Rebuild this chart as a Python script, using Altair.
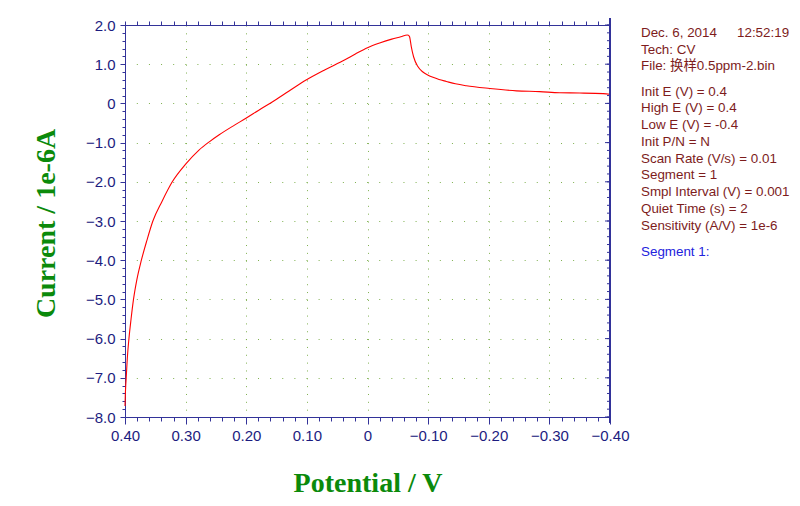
import altair as alt
import pandas as pd

# ---- data ----
potential = [0.400, 0.3995, 0.3988, 0.398, 0.3962, 0.3935, 0.390, 0.386, 0.3805, 0.373,
             0.364, 0.354, 0.339, 0.322, 0.300, 0.278, 0.261, 0.2446, 0.220, 0.2005,
             0.180, 0.1565, 0.130, 0.1013, 0.070, 0.038, 0.020, 0.000, -0.020, -0.040,
             -0.055, -0.0656, -0.0675, -0.0694, -0.0722, -0.076, -0.0831, -0.0914, -0.100, -0.108,
             -0.118, -0.130, -0.145, -0.163, -0.2017, -0.2458, -0.284, -0.317, -0.350, -0.389,
             -0.400]
current = [-7.72, -7.45, -7.20, -7.00, -6.50, -6.00, -5.50, -5.00, -4.50, -4.00,
           -3.50, -3.00, -2.50, -2.00, -1.55, -1.19, -0.98, -0.80, -0.56, -0.38,
           -0.18, 0.044, 0.31, 0.597, 0.86, 1.107, 1.26, 1.42, 1.54, 1.64,
           1.70, 1.745, 1.74, 1.70, 1.45, 1.19, 0.94, 0.80, 0.72, 0.665,
           0.61, 0.56, 0.50, 0.45, 0.38, 0.32, 0.30, 0.27, 0.265, 0.25,
           0.235]

x_ticks = [round(0.4 - 0.02 * i, 2) for i in range(41)]
y_ticks = [round(2.0 - 0.2 * i, 1) for i in range(51)]
y_major = [2.0, 1.0, 0.0, -1.0, -2.0, -3.0, -4.0, -5.0, -6.0, -7.0, -8.0]

info_head = ["Tech: CV", "File: 换样0.5ppm-2.bin"]
info_date = "Dec. 6, 2014"
info_time = "12:52:19"
info_params = ["Init E (V) = 0.4", "High E (V) = 0.4", "Low E (V) = -0.4", "Init P/N = N",
               "Scan Rate (V/s) = 0.01", "Segment = 1", "Smpl Interval (V) = 0.001",
               "Quiet Time (s) = 2", "Sensitivity (A/V) = 1e-6"]
segment_label = "Segment 1:"

df = pd.DataFrame({"E": potential, "I": current})
yt = pd.DataFrame({"v": y_ticks})
ym = pd.DataFrame({"v": y_major})

W, H = 485, 392
AX = "#333399"
LAB = "#1c1c80"
GRID = "#7fb04f"
TXT = "#7d1c1c"
GREEN = "#0b8a0b"
SANS = "Liberation Sans, Arial, Noto Sans CJK SC"

xmaj_test = "abs(datum.value*10 - round(datum.value*10)) < 1e-6"
ymaj_test = "abs(datum.value - round(datum.value)) < 1e-6"

xscale = alt.Scale(domain=[-0.4, 0.4], reverse=True, nice=False, zero=False)
yscale = alt.Scale(domain=[-8, 2], nice=False, zero=False)

bottom_axis = alt.Axis(
    orient="bottom", values=x_ticks,
    labelExpr=f"({xmaj_test}) ? (abs(datum.value) < 1e-9 ? '0' : format(datum.value, '.2f')) : ''",
    tickSize={"condition": {"test": xmaj_test, "value": 7}, "value": 4},
    tickColor=AX, domainColor=AX, labelColor=LAB, labelFont=SANS, labelFontSize=15,
    labelPadding=4, labelFlush=False, labelOverlap=False,
    grid=True, gridColor=GRID, gridDash=[1, 6.84], gridWidth=1,
    gridOpacity={"condition": {"test": xmaj_test, "value": 1}, "value": 0},
    title="Potential / V", titleFont="Liberation Serif", titleFontWeight="bold",
    titleFontSize=28, titleColor=GREEN, titleX=W / 2, titleY=74,
    titleAlign="center", titleBaseline="alphabetic",
)
left_axis = alt.Axis(
    orient="left", values=y_ticks,
    labelExpr=f"({ymaj_test}) ? (abs(datum.value) < 1e-9 ? '0' : format(datum.value, '.1f')) : ''",
    tickSize={"condition": {"test": ymaj_test, "value": 5}, "value": 3},
    tickColor=AX, domainColor=AX, labelColor=LAB, labelFont=SANS, labelFontSize=15,
    labelPadding=5, labelFlush=False, labelOverlap=False,
    grid=True, gridColor=GRID, gridDash=[1, 11.12], gridWidth=1,
    gridOpacity={"condition": {"test": ymaj_test, "value": 1}, "value": 0},
    title="Current / 1e-6A", titleFont="Liberation Serif", titleFontWeight="bold",
    titleFontSize=28, titleColor=GREEN, titleX=-71, titleY=198, titleAngle=-90,
    titleAlign="center", titleBaseline="alphabetic",
)
top_axis = alt.Axis(orient="top", values=x_ticks, labels=False, tickSize=4, tickColor=AX,
                    domainColor=AX, grid=False, title=None)

curve = alt.Chart(df).mark_line(color="#ff0000", strokeWidth=1.1, interpolate="monotone").encode(
    x=alt.X("E:Q", scale=xscale, axis=bottom_axis),
    y=alt.Y("I:Q", scale=yscale, axis=left_axis),
)
top = alt.Chart(df).mark_line(opacity=0).encode(
    x=alt.X("E:Q", scale=xscale, axis=top_axis),
    y=alt.Y("I:Q", scale=yscale, axis=None),
)
right_minor = alt.Chart(yt).mark_rule(color=AX, strokeWidth=1).encode(
    y=alt.Y("v:Q", scale=yscale, axis=None), x=alt.value(W - 3), x2=alt.value(W))
right_major = alt.Chart(ym).mark_rule(color=AX, strokeWidth=1).encode(
    y=alt.Y("v:Q", scale=yscale, axis=None), x=alt.value(W - 5), x2=alt.value(W))
right_line = alt.Chart(ym).mark_rule(color=AX, strokeWidth=1).encode(
    x=alt.value(W), y=alt.value(-7), y2=alt.value(H + 6))

layers = [curve, top, right_minor, right_major, right_line]

def label(text, x, y, color=TXT):
    return alt.Chart(pd.DataFrame({"t": [text]})).mark_text(
        align="left", baseline="middle", font=SANS, fontSize=13.4, color=color
    ).encode(text="t:N", x=alt.value(x), y=alt.value(y))

TX = 516
layers.append(label(info_date, TX, 8.3))
layers.append(label(info_time, 612, 8.3))
for i, t in enumerate(info_head):
    layers.append(label(t, TX, 24.5 + i * 16.2))
for i, t in enumerate(info_params):
    layers.append(label(t, TX, 66.5 + i * 16.75))
layers.append(label(segment_label, TX, 227, color="#2222dd"))

chart = alt.layer(*layers).resolve_axis(x="independent", y="independent").properties(
    width=W, height=H,
    padding={"left": 117, "top": 17, "right": 182, "bottom": 81},
    autosize=alt.AutoSizeParams(type="none"),
).configure_view(stroke=None).configure(background="white")

chart.save("out.html", embed_options={"renderer": "svg", "actions": False})
